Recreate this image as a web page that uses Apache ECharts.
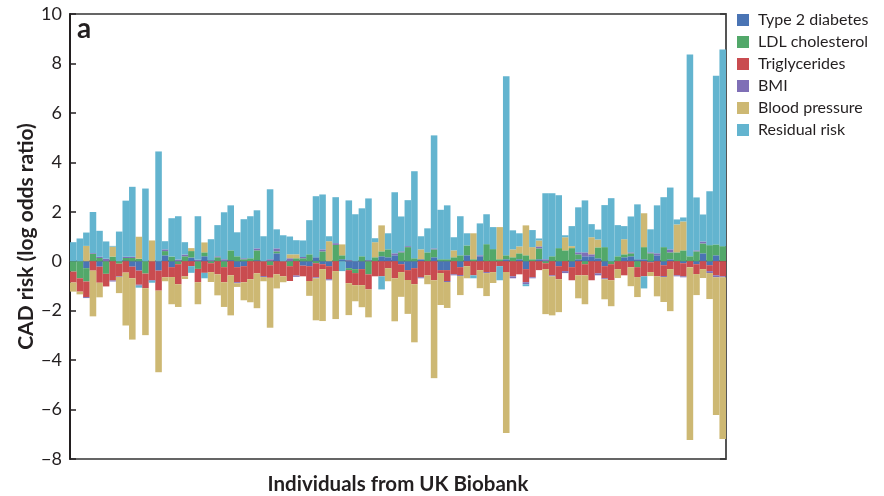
<!DOCTYPE html>
<html>
<head>
<meta charset="utf-8">
<script src="https://cdn.jsdelivr.net/npm/echarts@6/dist/echarts.min.js"></script>
<style>
html,body{margin:0;padding:0;background:#fff;}
#chart{width:884px;height:496px;}
</style>
</head>
<body>
<div id="chart"></div>
<script>
// Series names (legend order = stacking order)
const seriesNames = ['Type 2 diabetes', 'LDL cholesterol', 'Triglycerides', 'BMI', 'Blood pressure', 'Residual risk'];

// Per-series values, one entry per individual (100 individuals)
const t2d = [0,0,-0.28,0,-0.22,0,0,0,0.03,-0.22,-0.38,0,0,-0.38,0.24,-0.24,0,0,0.15,0,0.20,0,0,0,0.04,-0.24,-0.20,0,0.04,0,0,0.32,0,0,0,-0.18,-0.20,0.16,-0.12,-0.20,0,0.08,-0.28,-0.32,-0.32,0,0,0.20,0.16,0.24,-0.12,-0.36,-0.28,0.08,0,0.16,-0.36,-0.36,0,-0.24,0.24,0,0.20,0,0,0,0.08,0,0.08,-0.32,0,0.08,0,0,-0.20,0,-0.24,0.08,0.20,0.20,0.12,-0.20,0,0,0.16,0.20,0.08,0.08,-0.04,0.24,-0.16,0.08,0,-0.08,0,-0.12,0.32,-0.16,0.24,0];
const ldl = [-0.42,-0.69,-0.54,0.30,0.13,-0.51,0.19,-0.10,0.10,0.13,0.10,-0.50,0,0,0.17,0.19,-0.12,0.20,0.26,-0.31,0.16,-0.08,0.16,-0.24,0.40,0.20,0.08,0.12,0.40,0,-0.16,0.08,0,-0.20,0.12,0.12,0.28,-0.08,0.40,0,0.66,0.16,-0.08,-0.16,0.20,-0.53,0.16,0.20,0.32,0,0.36,0.57,0.12,0,0.36,0.32,0.08,0.08,0.16,0.24,0.40,0.08,0,0.69,0.49,0.08,0.16,0.16,0.24,0.24,0.08,0.44,-0.08,0.20,0.53,0.44,0.53,0.20,-0.12,0,0.44,0.57,-0.12,0.20,0.12,0.12,-0.24,0.49,0.32,0,0.57,0.28,0.36,0.44,0.20,0.40,0.40,0.65,0.44,0.61];
const tg = [-0.44,-0.54,-0.63,-0.38,-0.65,-0.51,-0.78,-0.50,-0.46,-0.47,-0.57,-0.59,-0.76,-0.81,-0.65,-0.40,-0.81,-0.61,-0.20,-0.54,-0.47,-0.36,-0.53,-0.61,-0.57,-0.61,-0.65,-0.73,-0.49,-0.60,-0.51,-0.53,-0.61,-0.60,-0.58,-0.43,-0.60,-0.57,-0.20,-0.53,-0.40,0,-0.53,-0.49,-0.65,-0.61,-0.61,-0.61,-0.28,-0.69,-0.32,-0.40,-0.65,-0.65,-0.57,-0.77,-0.12,-0.44,-0.53,-0.32,-0.20,-0.57,-0.36,-0.44,-0.44,-0.20,-0.44,-0.61,-0.53,-0.53,-0.65,-0.36,-0.24,-0.57,-0.53,-0.40,-0.53,-0.57,-0.45,-0.77,-0.49,-0.49,-0.65,-0.32,-0.57,-0.24,-0.40,-0.61,-0.40,-0.61,-0.44,-0.32,-0.57,-0.53,-0.24,-0.40,-0.32,-0.24,-0.57,-0.61];
const bmi = [0,0,-0.04,0.03,0.05,0.10,-0.04,-0.03,0.05,0.05,-0.04,0,-0.03,0,0.07,0,0.07,0.07,0,0.06,0,0.04,0.04,0.08,0,-0.04,0.04,0,0.08,-0.04,0.08,0.12,0,0.12,-0.05,0.05,0,-0.04,0.08,-0.04,0.07,0,0.04,0,0,0.04,0,0,0,0.08,0.04,0.04,0,-0.04,0,0.04,0,-0.04,-0.04,-0.04,0,0,0.04,-0.04,0,0,0,-0.08,0,-0.08,-0.04,0.08,0.08,-0.04,0,-0.08,0,0.08,0.16,0.08,-0.08,-0.04,0,0,0,0.04,0,0,0.04,0.08,-0.04,0.12,-0.04,-0.04,0,0.04,0.08,-0.08,-0.08,-0.04];
const bp = [-0.37,-0.11,0.62,-1.85,-0.59,0,0.40,-0.66,-2.14,-2.48,0.89,-1.90,0.84,-3.30,-0.16,-1.10,-0.92,-0.11,0.12,-0.89,0.40,-0.40,-0.85,-1.00,-1.62,-0.15,-0.73,-0.93,-1.41,-0.17,-2.02,-0.57,-0.24,0.16,0.16,0,-0.60,-1.70,-2.10,0.81,-1.94,0.44,-1.29,-0.65,-0.89,-1.13,0.61,1.05,-0.53,-1.74,-1.00,-1.37,-2.35,0.40,-0.36,-3.96,-1.29,-1.05,0.28,-0.77,-0.49,1.05,-0.73,-0.93,-0.44,1.30,-6.51,0.32,0.28,1.21,0.49,0.24,-1.82,-1.58,-1.33,0.53,0.08,-0.93,-1.17,0.69,0.32,-0.81,-1.05,-0.36,0.61,-0.77,-0.81,1.37,-0.16,-0.81,-1.01,-1.70,1.13,1.17,-6.99,-0.85,-0.36,-1.05,-5.57,-6.54];
const residual = [0.77,0.92,0.54,1.66,1.05,0.70,0.03,1.20,2.27,2.83,-0.08,2.94,-0.08,4.44,0.33,1.55,1.75,0.50,-0.27,1.76,-0.22,0.85,1.26,1.90,1.82,0.97,1.58,1.70,1.54,1.01,2.83,0.77,1.05,0.72,0.57,0.67,1.38,2.47,2.22,0.20,1.86,-0.40,2.42,1.90,1.94,2.50,0.16,-0.53,0.65,2.47,1.41,1.86,3.52,0.53,0.97,4.57,2.00,2.18,0.53,1.58,0.49,-0.12,1.29,1.21,0.89,-0.57,7.24,0.77,0.53,-0.08,0.69,0.08,2.67,2.55,2.14,0.08,0.81,1.82,2.10,0.53,0.40,1.70,2.55,1.26,0.53,1.45,2.22,-0.49,0.93,1.94,2.02,2.50,0.20,0.16,8.16,2.14,1.09,2.18,6.82,7.95];

const categories = t2d.map((_, i) => String(i + 1));
const yTickLabels = ['−8','−6','−4','−2','0','2','4','6','8','10'];
const yMin = -8, yMax = 10, yStep = 2;

const colors = ['#4a74b4', '#52a86a', '#c94c50', '#7f6fb6', '#cdb873', '#63b4cf'];
const seriesData = [t2d, ldl, tg, bmi, bp, residual];

const FONT = 'Lato';
const chart = echarts.init(document.getElementById('chart'), null, {renderer: 'canvas'});

const option = {
  animation: false,
  backgroundColor: '#ffffff',
  color: colors,
  grid: {left: 70, right: 158, top: 14, bottom: 37, outerBoundsMode: 'none', containLabel: false,
    show: true, borderColor: '#333', borderWidth: 1.5, backgroundColor: 'transparent'},
  legend: {
    orient: 'vertical', left: 737, top: 12, padding: 0,
    icon: 'rect', itemWidth: 12, itemHeight: 12, itemGap: 6,
    textStyle: {fontFamily: FONT, fontSize: 16, color: '#231f20', padding: [0,0,0,4]},
    data: seriesNames
  },
  graphic: [{type: 'text', left: 77, top: 15, style: {text: 'a', font: 'bold 28px ' + FONT, fill: '#231f20'}}],
  xAxis: {
    type: 'category', data: categories,
    boundaryGap: true,
    axisLine: {show: true, lineStyle: {color: '#444', width: 1.5}},
    axisTick: {show: false}, axisLabel: {show: false}, splitLine: {show: false},
    name: 'Individuals from UK Biobank', nameLocation: 'middle', nameGap: 15,
    nameTextStyle: {fontFamily: FONT, fontWeight: 'bold', fontSize: 20.5, color: '#231f20'}
  },
  yAxis: [{
    type: 'value', min: yMin, max: yMax, interval: yStep, position: 'left',
    axisLine: {show: true, lineStyle: {color: '#231f20', width: 2}},
    axisTick: {show: true, inside: true, length: 6, lineStyle: {color: '#231f20', width: 1.5}},
    axisLabel: {margin: 8, fontFamily: FONT, fontSize: 18, color: '#231f20',
      formatter: v => yTickLabels[Math.round((v - yMin) / yStep)]},
    splitLine: {show: false},
    name: 'CAD risk (log odds ratio)', nameLocation: 'middle', nameGap: 33, nameMoveOverlap: false,
    nameTextStyle: {fontFamily: FONT, fontWeight: 'bold', fontSize: 21, color: '#231f20'}
  }, {
    type: 'value', min: yMin, max: yMax, interval: yStep, position: 'right',
    axisLine: {show: true, lineStyle: {color: '#555', width: 2}},
    axisTick: {show: true, inside: true, length: 6, lineStyle: {color: '#333', width: 1.5}},
    axisLabel: {show: false}, splitLine: {show: false}
  }],
  series: seriesNames.map((name, k) => ({
    name, type: 'bar', stack: 'total', data: seriesData[k],
    barCategoryGap: '0%', barGap: '0%',
    itemStyle: {color: colors[k]},
    emphasis: {disabled: true}
  }))
};
chart.setOption(option);
</script>
</body>
</html>
